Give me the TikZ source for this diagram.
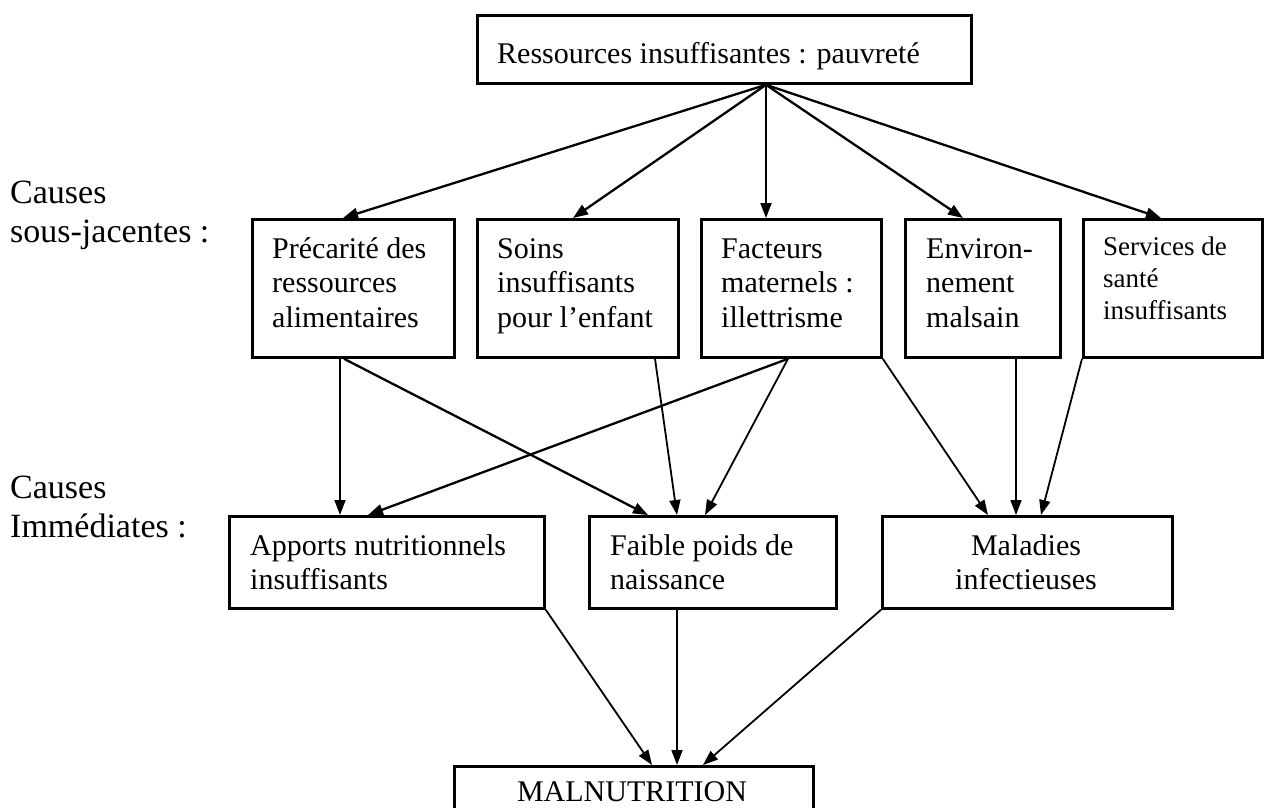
\documentclass[tikz,border=0pt]{standalone}
\usepackage{fontspec}
\setmainfont{Liberation Serif}
\usetikzlibrary{arrows.meta}
\newcommand\fbody{\fontsize{30}{34.5}\selectfont}
\newcommand\fsmall{\fontsize{27}{32}\selectfont}
\newcommand\flab{\fontsize{34}{39}\selectfont}
\begin{document}
\begin{tikzpicture}[x=1pt,y=-1pt,
  box/.style={draw, line width=2.8pt, inner sep=0pt, anchor=north west},
  txt/.style={inner sep=0pt, anchor=north west, align=left, font=\fbody},
  ctxt/.style={inner sep=0pt, anchor=north, align=center, font=\fbody},
  lab/.style={inner sep=0pt, anchor=north west, align=left, font=\flab},
  conn/.style={line width=2.3pt, -{Triangle[length=15pt,width=11pt]}},
  thin/.style={line width=1.8pt, -{Triangle[length=15pt,width=11pt]}}]
\useasboundingbox (0,0) rectangle (1267,807);
\fill[white] (0,0) rectangle (1267,807);

% boxes
\node[box, minimum width=494pt, minimum height=68pt] (top) at (476,14) {};
\node[box, minimum width=202pt, minimum height=138pt] (b1) at (251,218) {};
\node[box, minimum width=201pt, minimum height=138pt] (b2) at (476,218) {};
\node[box, minimum width=180pt, minimum height=138pt] (b3) at (700,218) {};
\node[box, minimum width=155pt, minimum height=138pt] (b4) at (904,218) {};
\node[box, minimum width=179pt, minimum height=138pt] (b5) at (1082,218) {};
\node[box, minimum width=315pt, minimum height=92pt] (bA) at (228,515) {};
\node[box, minimum width=247pt, minimum height=92pt] (bB) at (588,515) {};
\node[box, minimum width=290pt, minimum height=92pt] (bC) at (881,515) {};
\node[box, minimum width=359pt, minimum height=80pt] (bM) at (453,765) {};

% texts
\node[txt] (ttop) at (497,38.85) {\strut Ressources insuffisantes : pauvreté};
\node[txt] (t1) at (272,233.85) {\strut Précarité des\\\strut ressources\\\strut alimentaires};
\node[txt] (t2) at (497,233.85) {\strut Soins\\\strut insuffisants\\\strut pour l’enfant};
\node[txt] (t3) at (721,233.85) {\strut Facteurs\\\strut maternels :\\\strut illettrisme};
\node[txt] (t4) at (926,233.85) {\strut Environ-\\\strut nement\\\strut malsain};
\node[txt, font=\fsmall] (t5) at (1103,232.6) {\strut Services de\\\strut santé\\\strut insuffisants};
\node[txt] (tA) at (250,530.85) {\strut Apports nutritionnels\\\strut insuffisants};
\node[txt] (tB) at (610,530.85) {\strut Faible poids de\\\strut naissance};
\node[ctxt] (tC) at (1026,530.85) {\strut Maladies\\\strut infectieuses};
\node[inner sep=0pt, anchor=base, font=\fbody] (tM) at (632,801) {MALNUTRITION};

% left labels
\node[lab] (l1) at (10,175.7) {\strut Causes\\\strut sous-jacentes :};
\node[lab] (l2) at (10,470.7) {\strut Causes\\\strut Immédiates :};

% top connectors
\coordinate (o) at ([xshift=290pt]top.south west);
\draw[conn] (o) -- ([xshift=92pt]b1.north west);
\draw[conn] (o) -- ([xshift=97pt]b2.north west);
\draw[thin] (o) -- ([xshift=66pt]b3.north west);
\draw[conn] (o) -- ([xshift=59pt]b4.north west);
\draw[conn] (o) -- ([xshift=79pt]b5.north west);

% middle connectors
\draw[thin] ([xshift=89pt]b1.south west) -- ([xshift=112pt]bA.north west);
\draw[conn] ([xshift=93pt]b1.south west) -- ([xshift=60pt]bB.north west);
\draw[thin] ([xshift=179pt]b2.south west) -- ([xshift=89pt]bB.north west);
\draw[conn] ([xshift=88pt]b3.south west) -- ([xshift=140pt]bA.north west);
\draw[thin] ([xshift=88pt]b3.south west) -- ([xshift=117pt]bB.north west);
\draw[thin] (b3.south east) -- ([xshift=107pt]bC.north west);
\draw[thin] ([xshift=112pt]b4.south west) -- ([xshift=135pt]bC.north west);
\draw[thin] (b5.south west) -- ([xshift=160pt]bC.north west);

% bottom connectors
\draw[thin] (bA.south east) -- ([xshift=199pt]bM.north west);
\draw[thin] ([xshift=89pt]bB.south west) -- ([xshift=224pt]bM.north west);
\draw[thin] (bC.south west) -- ([xshift=250pt]bM.north west);
\end{tikzpicture}
\end{document}
